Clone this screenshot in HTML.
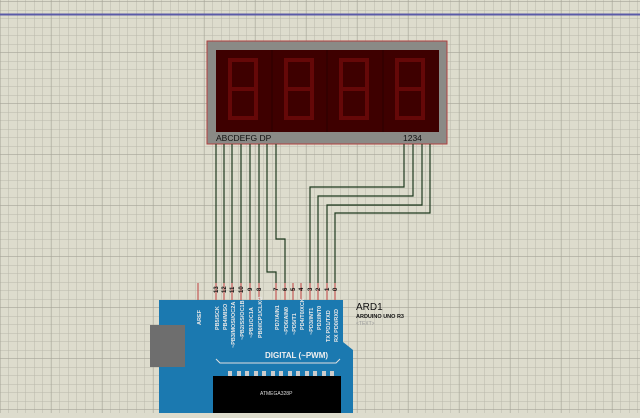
<!DOCTYPE html><html><head><style>
body{margin:0;width:640px;height:413px;overflow:hidden;background:#dddccd;font-family:"Liberation Sans",sans-serif}
</style></head><body>
<svg width="640" height="413" xmlns="http://www.w3.org/2000/svg">
<defs>
<pattern id="g" width="8.5" height="8.5" patternUnits="userSpaceOnUse" x="0.5" y="2">
<path d="M8.5 0V8.5M0 8.5H8.5" stroke="#b9b8aa" stroke-width="1" fill="none"/></pattern>
<pattern id="G" width="51" height="51" patternUnits="userSpaceOnUse" x="0.5" y="2">
<path d="M51 0V51M0 51H51" stroke="#a5a497" stroke-width="1.3" fill="none"/></pattern>
</defs>
<rect width="640" height="413" fill="#dddccd"/>
<rect width="640" height="413" fill="url(#g)"/>
<rect width="640" height="413" fill="url(#G)"/>
<line x1="0" y1="14.5" x2="640" y2="14.5" stroke="#5a5aa8" stroke-width="2"/>
<!-- display -->
<rect x="207" y="41" width="240" height="103" fill="#8a8a86" stroke="#b04040" stroke-width="1"/>
<rect x="216" y="50" width="223" height="82" fill="#3e0000"/>
<g stroke="#2a0000"><line x1="272" y1="50" x2="272" y2="132"/><line x1="327" y1="50" x2="327" y2="132"/><line x1="383" y1="50" x2="383" y2="132"/></g>
<g fill="none" stroke="#650808" stroke-width="4">
<path d="M230 60h26v58h-26zM230 89h26"/><path d="M286 60h26v58h-26zM286 89h26"/><path d="M341 60h26v58h-26zM341 89h26"/><path d="M397 60h26v58h-26zM397 89h26"/>
</g>
<text x="216" y="141" font-size="8.5" fill="#111">ABCDEFG DP</text>
<text x="403" y="141" font-size="8.5" fill="#111">1234</text>
<!-- wires -->
<g stroke="#1e3a1e" stroke-width="1.2" fill="none">
<path d="M216 144V283M224 144V283M232 144V283M241 144V283M250 144V283M259 144V283"/>
<path d="M267 144V272H276V283"/>
<path d="M276 144V239H285V283"/>
<path d="M404 144V187H310V283"/>
<path d="M413 144V196H318V283"/>
<path d="M422 144V205H327V283"/>
<path d="M430 144V213H335V283"/>
</g>
<!-- board -->
<path d="M159 300H343V342L353 350V413H159Z" fill="#1b79b0"/>
<rect x="150" y="325" width="35" height="42" fill="#6e6e6e"/>
<g stroke="#c04040" stroke-width="1">
<path d="M198 283V300M216 283V300M224 283V300M232 283V300M241 283V300M250 283V300M259 283V300M276 283V300M285 283V300M293 283V300M301 283V300M310 283V300M318 283V300M327 283V300M335 283V300"/>
</g>
<g font-size="6" font-weight="bold" fill="#111">
<text transform="translate(218,293) rotate(-90)">13</text><text transform="translate(226,293) rotate(-90)">12</text><text transform="translate(234,293) rotate(-90)">11</text><text transform="translate(243,293) rotate(-90)">10</text><text transform="translate(252,291) rotate(-90)">9</text><text transform="translate(261,291) rotate(-90)">8</text>
<text transform="translate(278,291) rotate(-90)">7</text><text transform="translate(287,291) rotate(-90)">6</text><text transform="translate(295,291) rotate(-90)">5</text><text transform="translate(303,291) rotate(-90)">4</text><text transform="translate(312,291) rotate(-90)">3</text><text transform="translate(320,291) rotate(-90)">2</text><text transform="translate(329,291) rotate(-90)">1</text><text transform="translate(337,291) rotate(-90)">0</text>
</g>
<g font-size="5.5" fill="#e8e8e8" font-weight="bold">
<text transform="translate(201,325) rotate(-90)">AREF</text>
<text transform="translate(219,330) rotate(-90)">PB5/SCK</text>
<text transform="translate(227,330) rotate(-90)">PB4/MISO</text>
<text transform="translate(235,348) rotate(-90)">~PB3/MOSI/OC2A</text>
<text transform="translate(244,340) rotate(-90)">~PB2/SS/OC1B</text>
<text transform="translate(253,338) rotate(-90)">~PB1/OC1A</text>
<text transform="translate(262,338) rotate(-90)">PB0/ICP1/CLKO</text>
<text transform="translate(279,330) rotate(-90)">PD7/AIN1</text>
<text transform="translate(288,335) rotate(-90)">~PD6/AIN0</text>
<text transform="translate(296,335) rotate(-90)">~PD5/T1</text>
<text transform="translate(304,330) rotate(-90)">PD4/T0/XCK</text>
<text transform="translate(313,335) rotate(-90)">~PD3/INT1</text>
<text transform="translate(321,330) rotate(-90)">PD2/INT0</text>
<text transform="translate(330,342) rotate(-90)">TX PD1/TXD</text>
<text transform="translate(338,342) rotate(-90)">RX PD0/RXD</text>
</g>
<text x="265" y="358" font-size="8" fill="#f0f0f0" font-weight="bold">DIGITAL (~PWM)</text>
<path d="M216 359l4 4H336l4-4" stroke="#e0e0e0" fill="none"/>
<rect x="213" y="376" width="128" height="37" fill="#000"/>
<g fill="#ccc"><rect x="228" y="371" width="4" height="5"/><rect x="237" y="371" width="4" height="5"/><rect x="245" y="371" width="4" height="5"/><rect x="254" y="371" width="4" height="5"/><rect x="262" y="371" width="4" height="5"/><rect x="271" y="371" width="4" height="5"/><rect x="279" y="371" width="4" height="5"/><rect x="288" y="371" width="4" height="5"/><rect x="296" y="371" width="4" height="5"/><rect x="305" y="371" width="4" height="5"/><rect x="313" y="371" width="4" height="5"/><rect x="322" y="371" width="4" height="5"/><rect x="330" y="371" width="4" height="5"/></g>
<text x="260" y="395" font-size="5" fill="#ddd">ATMEGA328P</text>
<text x="356" y="310" font-size="10" fill="#111">ARD1</text>
<text x="356" y="318" font-size="5.5" fill="#111" font-weight="bold">ARDUINO UNO R3</text>
<text x="356" y="325" font-size="5" fill="#999">&lt;TEXT&gt;</text>
</svg>
</body></html>
